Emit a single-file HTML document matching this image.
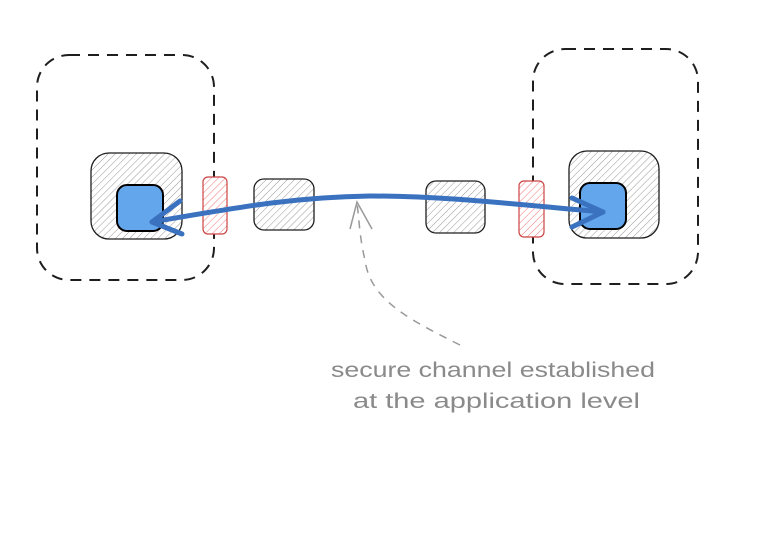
<!DOCTYPE html>
<html><head><meta charset="utf-8"><style>html,body{margin:0;padding:0;background:#fff}svg{display:block}</style></head>
<body>
<svg width="782" height="558" viewBox="0 0 782 558" xmlns="http://www.w3.org/2000/svg">
<defs>
<pattern id="hg" width="5" height="5" patternUnits="userSpaceOnUse" patternTransform="rotate(45)">
<rect width="5" height="5" fill="#fff"/><line x1="0" y1="0" x2="0" y2="5" stroke="#999" stroke-width="1"/></pattern>
<pattern id="hr" width="5" height="5" patternUnits="userSpaceOnUse" patternTransform="rotate(45)">
<rect width="5" height="5" fill="#fff"/><line x1="0" y1="0" x2="0" y2="5" stroke="#e77" stroke-width="1"/></pattern>
</defs>
<g fill="none" stroke="#1e1e1e" stroke-width="2" stroke-dasharray="11 8">
<rect x="37" y="55" width="177" height="225" rx="32"/>
<rect x="533" y="49" width="165" height="235" rx="32"/>
</g>
<g stroke="#1e1e1e" stroke-width="1.3" fill="url(#hg)">
<rect x="91" y="153" width="91" height="86" rx="18"/>
<rect x="569" y="151" width="90" height="87" rx="18"/>
<rect x="254" y="179" width="60" height="51" rx="10"/>
<rect x="426" y="181" width="59" height="52" rx="10"/>
</g>
<g stroke="#c44" stroke-width="1.2" fill="url(#hr)">
<rect x="203" y="177" width="24" height="57" rx="5"/>
<rect x="519" y="181" width="25" height="56" rx="5"/>
</g>
<g stroke="#000" stroke-width="2" fill="#63a6ec">
<rect x="117" y="185" width="46" height="46" rx="10"/>
<rect x="580" y="183" width="46" height="46" rx="10"/>
</g>
<g fill="none" stroke="#3a72c0" stroke-width="5" stroke-linecap="round" stroke-linejoin="round">
<path d="M152 222 C250 205 300 197 370 196 C450 196 520 205 603 212"/>
<path d="M180 201 L152 222 L182 234"/>
<path d="M572 198 L603 212 L572 227"/>
</g>
<g fill="none" stroke="#999" stroke-width="1.5">
<path d="M460 345 C410 320 370 300 365 260 C360 240 359 220 357 202" stroke-dasharray="8 7"/>
<path d="M350 229 L357 202 L372 229"/>
</g>
<g fill="#8a8a8a" font-family="Liberation Sans, sans-serif" font-size="21">
<text x="331" y="377" textLength="324" lengthAdjust="spacingAndGlyphs">secure channel established</text>
<text x="353" y="408" textLength="287" lengthAdjust="spacingAndGlyphs">at the application level</text>
</g>
</svg>
</body></html>
